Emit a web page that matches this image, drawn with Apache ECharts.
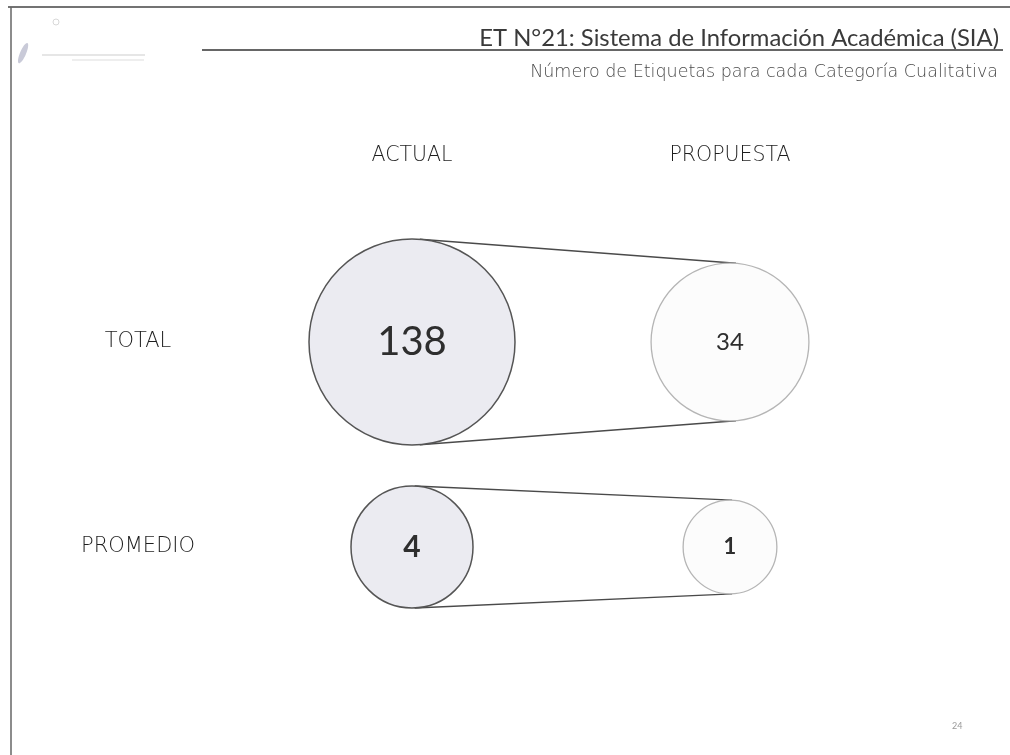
<!DOCTYPE html>
<html>
<head>
<meta charset="utf-8">
<script src="https://cdn.jsdelivr.net/npm/echarts@6/dist/echarts.min.js"></script>
<style>
  html, body { margin: 0; padding: 0; background: #ffffff; }
  #chart { width: 1010px; height: 755px; }
</style>
</head>
<body>
<div id="chart"></div>
<script>
// ---- data ----
const columns = ['ACTUAL', 'PROPUESTA'];
const rows = ['TOTAL', 'PROMEDIO'];
const actualValues = [138, 4];
const propuestaValues = [34, 1];
const titleText = 'ET N\u00b021: Sistema de Informaci\u00f3n Acad\u00e9mica (SIA)';
const subtitleText = 'N\u00famero de Etiquetas para cada Categor\u00eda Cualitativa';
const pageNumber = '24';

// ---- styles ----
const FONT = 'Lato, "Open Sans", sans-serif';
const WIDE = '"DejaVu Sans", Verdana, sans-serif';
const rowMaxDiameter = [206, 122];
const sizeExponent = 0.19;
const actualFontSizes = [40, 30];
const propuestaFontSizes = [24, 22];
const actualWeights = ['normal', 'bold'];
const propuestaWeights = ['normal', 'bold'];

function rowMax(r) { return Math.max(actualValues[r], propuestaValues[r]); }
function diameter(v, r) { return rowMaxDiameter[r] * Math.pow(v / rowMax(r), sizeExponent); }

const actualData = actualValues.map((v, r) => ({
  value: [0, r, v],
  label: { fontSize: actualFontSizes[r], fontWeight: actualWeights[r] }
}));
const propuestaData = propuestaValues.map((v, r) => ({
  value: [1, r, v],
  label: { fontSize: propuestaFontSizes[r], fontWeight: propuestaWeights[r] }
}));
const linkData = rows.map((name, r) => [r, actualValues[r], propuestaValues[r]]);

const chart = echarts.init(document.getElementById('chart'));
chart.setOption({
  backgroundColor: '#ffffff',
  animation: false,
  title: [
    { text: titleText, right: 6, top: 21,
      textStyle: { fontFamily: FONT, fontSize: 23.8, fontWeight: 'normal', color: '#3a3a3a' } },
    { text: subtitleText, right: 7, top: 58,
      textStyle: { fontFamily: WIDE, fontSize: 17.5, fontWeight: 300, color: '#4a4a4a' } }
  ],
  grid: { left: 412, right: 280, top: 342, bottom: 208 },
  xAxis: {
    type: 'category', data: columns, position: 'top', boundaryGap: false,
    axisLine: { show: false }, axisTick: { show: false }, splitLine: { show: false },
    axisLabel: { margin: 176, fontFamily: WIDE, fontSize: 20.5, fontWeight: 300, color: '#1e1e1e' }
  },
  yAxis: {
    type: 'category', data: rows, inverse: true, boundaryGap: false,
    axisLine: { show: false }, axisTick: { show: false }, splitLine: { show: false },
    axisLabel: { margin: 274, align: 'center', fontFamily: WIDE, fontSize: 21, fontWeight: 300, color: '#1e1e1e' }
  },
  series: [
    {
      type: 'custom',
      z: 1,
      data: linkData,
      renderItem: function (params, api) {
        const r = api.value(0);
        const c1 = api.coord([0, r]);
        const c2 = api.coord([1, r]);
        const r1 = diameter(api.value(1), r) / 2;
        const r2 = diameter(api.value(2), r) / 2;
        const dx = c2[0] - c1[0], dy = c2[1] - c1[1];
        const dist = Math.sqrt(dx * dx + dy * dy);
        const base = Math.atan2(dy, dx);
        const th = Math.acos((r1 - r2) / dist);
        const lines = [base - th, base + th].map(a => ({
          type: 'line',
          shape: {
            x1: c1[0] + r1 * Math.cos(a), y1: c1[1] + r1 * Math.sin(a),
            x2: c2[0] + r2 * Math.cos(a), y2: c2[1] + r2 * Math.sin(a)
          },
          style: { stroke: '#4a4a4a', lineWidth: 1.4 }
        }));
        return { type: 'group', children: lines };
      }
    },
    {
      type: 'scatter', name: 'ACTUAL', z: 3,
      data: actualData,
      symbolSize: (v) => diameter(v[2], v[1]),
      itemStyle: { color: '#ebebf1', borderColor: '#555', borderWidth: 1.5, opacity: 1 },
      label: { show: true, position: 'inside', formatter: p => String(p.value[2]),
               fontFamily: FONT, color: '#2e2e2e' },
      emphasis: { disabled: true }
    },
    {
      type: 'scatter', name: 'PROPUESTA', z: 3,
      data: propuestaData,
      symbolSize: (v) => diameter(v[2], v[1]),
      itemStyle: { color: '#fcfcfc', borderColor: '#b5b5b5', borderWidth: 1.3, opacity: 1 },
      label: { show: true, position: 'inside', formatter: p => String(p.value[2]),
               fontFamily: FONT, color: '#2e2e2e' },
      emphasis: { disabled: true }
    }
  ],
  graphic: [
    { type: 'line', shape: { x1: 8, y1: 7, x2: 1010, y2: 7 }, style: { stroke: '#444', lineWidth: 1.5 } },
    { type: 'line', shape: { x1: 11, y1: 7, x2: 11, y2: 755 }, style: { stroke: '#666', lineWidth: 1.5 } },
    { type: 'line', shape: { x1: 202, y1: 50, x2: 1003, y2: 50 }, style: { stroke: '#333', lineWidth: 1.5 } },
    { type: 'ellipse', shape: { cx: 42, cy: 40, rx: 3, ry: 11 }, rotation: -0.4, style: { fill: '#c9cad8' } },
    { type: 'circle', shape: { cx: 56, cy: 22, r: 3 }, style: { fill: 'none', stroke: '#d8d8d8', lineWidth: 1 } },
    { type: 'rect', shape: { x: 42, y: 54, width: 103, height: 2 }, style: { fill: '#e6e6e6' } },
    { type: 'rect', shape: { x: 72, y: 59, width: 72, height: 2 }, style: { fill: '#eeeeee' } },
    { type: 'text', left: 952, top: 722, style: { text: pageNumber, fontSize: 9, fill: '#999', fontFamily: FONT } }
  ]
});
</script>
</body>
</html>
